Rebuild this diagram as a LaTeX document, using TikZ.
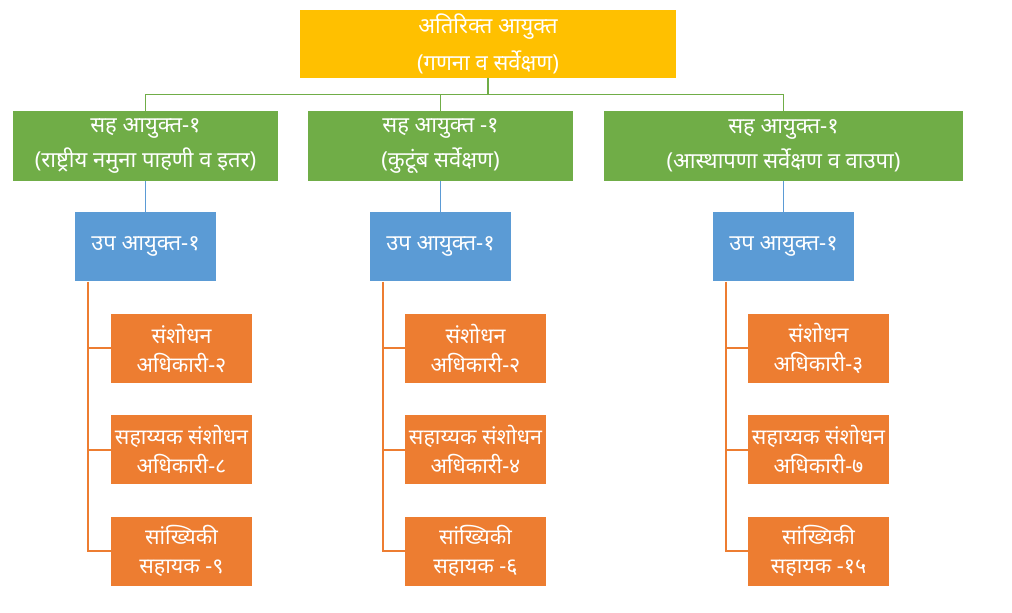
\documentclass[tikz,border=0pt]{standalone}
\usepackage{fontspec}
\newfontfamily\devfont[Script=Devanagari]{Noto Sans}
\usepackage{tikz}
\usetikzlibrary{positioning}

\definecolor{gold}{HTML}{FFC000}
\definecolor{leaf}{HTML}{70AD47}
\definecolor{sky}{HTML}{5B9BD5}
\definecolor{rust}{HTML}{ED7D31}

\tikzstyle{box}       = [rectangle, draw=none, text=white, align=center, inner sep=0pt]
\tikzstyle{topbox}    = [box, fill=gold, minimum width=376pt, minimum height=68pt,
font=\devfont\fontsize{22}{37}\selectfont]
\tikzstyle{jointbox}  = [box, fill=leaf, minimum width=265pt, minimum height=70pt,
font=\devfont\fontsize{22}{35}\selectfont]
\tikzstyle{deputybox} = [box, fill=sky, minimum width=141pt, minimum height=69pt,
font=\devfont\fontsize{22}{35}\selectfont]
\tikzstyle{staffbox}  = [box, fill=rust, minimum width=141pt, minimum height=69pt,
font=\devfont\fontsize{21.5}{29}\selectfont]
\tikzstyle{tline}     = [draw, line width=1.8pt]

\begin{document}
\begin{tikzpicture}[x=1pt, y=-1pt]
\useasboundingbox (0,0) rectangle (1012,613);

\node[topbox] (addcomm) at (488,44) {अतिरिक्त आयुक्त\\(गणना व सर्वेक्षण)};

\node[jointbox] (jointcomm1) at (145.5,146) {सह आयुक्त-१\\(राष्ट्रीय नमुना पाहणी व इतर)};
\node[jointbox] (jointcomm2) at (440.5,146) {सह आयुक्त -१\\(कुटूंब सर्वेक्षण)};
\node[jointbox, minimum width=359pt] (jointcomm3) at (783.5,146) {सह आयुक्त-१\\(आस्थापणा सर्वेक्षण व वाउपा)};

\node[deputybox, below=31pt of jointcomm1] (deputy1) {उप आयुक्त-१};
\node[deputybox, below=31pt of jointcomm2] (deputy2) {उप आयुक्त-१};
\node[deputybox, below=31pt of jointcomm3] (deputy3) {उप आयुक्त-१};

% officers under each deputy
\node[staffbox, below right=32pt and 36pt of deputy1.south west] (officer1) {संशोधन\\अधिकारी-२};
\node[staffbox, below=32pt of officer1] (assistant1) {सहाय्यक संशोधन\\अधिकारी-८};
\node[staffbox, below=32pt of assistant1] (statistic1) {सांख्यिकी\\सहायक -९};

\node[staffbox, below right=32pt and 35pt of deputy2.south west] (officer2) {संशोधन\\अधिकारी-२};
\node[staffbox, below=32pt of officer2] (assistant2) {सहाय्यक संशोधन\\अधिकारी-४};
\node[staffbox, below=32pt of assistant2] (statistic2) {सांख्यिकी\\सहायक -६};

\node[staffbox, below right=32pt and 35pt of deputy3.south west] (officer3) {संशोधन\\अधिकारी-३};
\node[staffbox, below=32pt of officer3] (assistant3) {सहाय्यक संशोधन\\अधिकारी-७};
\node[staffbox, below=32pt of assistant3] (statistic3) {सांख्यिकी\\सहायक -१५};

% green bus
\coordinate (bus) at (488,94.5);
\path[tline, draw=leaf] (addcomm.south) -- (bus);
\path[tline, draw=leaf] (jointcomm1.north) |- (bus) -| (jointcomm3.north);
\path[tline, draw=leaf] (jointcomm2.north) -- (jointcomm2.north |- bus);

\path[tline, draw=sky] (jointcomm1) edge (deputy1);
\path[tline, draw=sky] (jointcomm2) edge (deputy2);
\path[tline, draw=sky] (jointcomm3) edge (deputy3);

\path[tline, draw=rust] ([xshift=13pt]deputy1.south west) |- (statistic1.west);
\path[tline, draw=rust] ([xshift=13pt]deputy1.south west |- officer1.west) -- (officer1.west);
\path[tline, draw=rust] ([xshift=13pt]deputy1.south west |- assistant1.west) -- (assistant1.west);

\path[tline, draw=rust] ([xshift=13pt]deputy2.south west) |- (statistic2.west);
\path[tline, draw=rust] ([xshift=13pt]deputy2.south west |- officer2.west) -- (officer2.west);
\path[tline, draw=rust] ([xshift=13pt]deputy2.south west |- assistant2.west) -- (assistant2.west);

\path[tline, draw=rust] ([xshift=13pt]deputy3.south west) |- (statistic3.west);
\path[tline, draw=rust] ([xshift=13pt]deputy3.south west |- officer3.west) -- (officer3.west);
\path[tline, draw=rust] ([xshift=13pt]deputy3.south west |- assistant3.west) -- (assistant3.west);

\end{tikzpicture}
\end{document}
